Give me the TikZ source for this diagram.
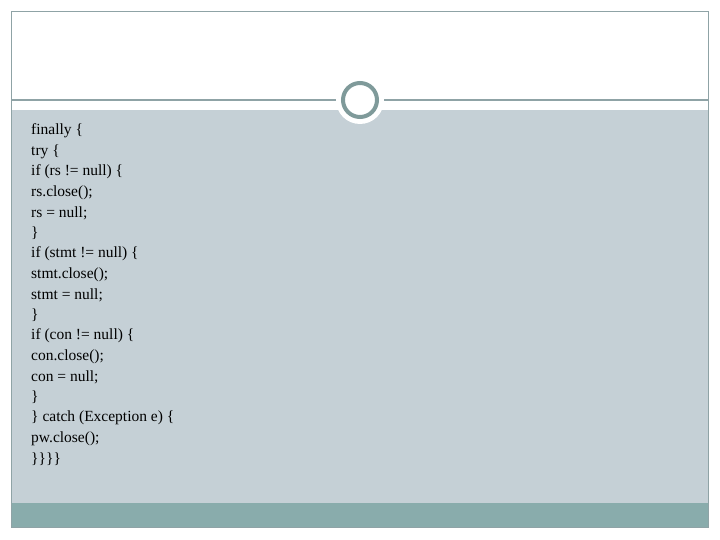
\documentclass[tikz,border=0pt]{standalone}
\usepackage{fontspec}
\setmainfont{Liberation Serif}
\definecolor{panel}{HTML}{C5D0D6}
\definecolor{band}{HTML}{89ACAC}
\definecolor{rim}{HTML}{7F9A9A}
\definecolor{edge}{HTML}{8FA3A6}
\begin{document}
\begin{tikzpicture}[x=1pt,y=-1pt,
  codeline/.style={anchor=west,inner sep=0pt,font=\fontsize{15.5}{18}\selectfont}]
\useasboundingbox (0,0) rectangle (720,540);
\fill[white] (0,0) rectangle (720,540);
\fill[panel] (11,110) rectangle (708,503);
\fill[band] (11,503) rectangle (708,527);
\draw[edge,line width=1pt] (11,12) rectangle (708,527);
\draw[edge,line width=1.2pt] (11,100) -- (708,100);
\fill[white] (360,100) circle (24);
\node[circle,draw=rim,fill=white,line width=4pt,minimum size=34pt,inner sep=0pt] (ring) at (360,100) {};
\foreach \t [count=\i] in {finally \{,try \{,if (rs != null) \{,rs.close();,rs = null;,\},if (stmt != null) \{,stmt.close();,stmt = null;,\},if (con != null) \{,con.close();,con = null;,\},\} catch (Exception e) \{,pw.close();,\}\}\}\}}
  \node[codeline] (l\i) at (31,{131+(\i-1)*20.5}) {\t};
\end{tikzpicture}
\end{document}
